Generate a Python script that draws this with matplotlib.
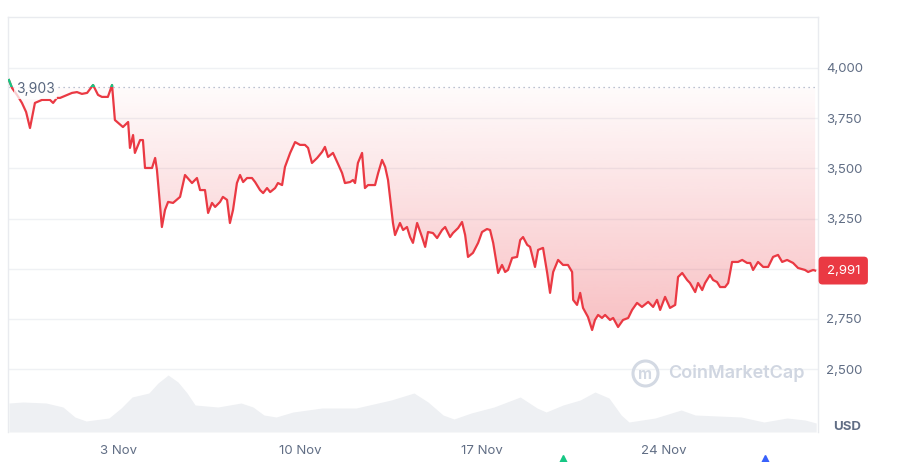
import numpy as np
import pandas as pd
import matplotlib
matplotlib.use('Agg')
import matplotlib.pyplot as plt
import matplotlib.dates as mdates
from matplotlib.patches import Rectangle
from matplotlib.transforms import blended_transform_factory

plt.rcParams['font.family'] = ['Inter', 'DejaVu Sans']

# Price series (days since 29 Oct 2025, USD)
price_days = [0.80, 0.92, 1.11, 1.30, 1.46, 1.61, 1.80, 2.07, 2.38, 2.50, 2.65, 2.77, 3.04, 3.23, 3.42,
              3.61, 3.81, 4.04, 4.23, 4.38, 4.61, 4.77, 4.88, 5.19, 5.39, 5.46, 5.58, 5.65, 5.85, 5.96,
              6.04, 6.31, 6.43, 6.50, 6.69, 6.81, 6.93, 7.12, 7.39, 7.58, 7.85, 8.04, 8.16, 8.35, 8.47,
              8.62, 8.74, 8.93, 9.04, 9.20, 9.31, 9.43, 9.58, 9.70, 9.82, 9.97, 10.16, 10.28, 10.47,
              10.59, 10.74, 10.86, 11.05, 11.16, 11.32, 11.43, 11.63, 11.82, 12.01, 12.20, 12.32, 12.47,
              12.67, 12.86, 12.97, 13.09, 13.28, 13.44, 13.63, 13.74, 13.94, 14.05, 14.13, 14.24, 14.40,
              14.51, 14.63, 14.90, 15.02, 15.17, 15.29, 15.40, 15.59, 15.67, 15.86, 15.98, 16.13, 16.25,
              16.36, 16.52, 16.71, 16.83, 16.94, 17.13, 17.29, 17.48, 17.60, 17.79, 17.90, 18.10, 18.25,
              18.37, 18.48, 18.67, 18.87, 19.02, 19.21, 19.33, 19.45, 19.64, 19.79, 19.91, 20.02, 20.18,
              20.37, 20.49, 20.60, 20.76, 20.87, 21.06, 21.18, 21.37, 21.53, 21.64, 21.76, 21.95, 22.14,
              22.33, 22.49, 22.53, 22.68, 22.80, 22.91, 23.10, 23.26, 23.37, 23.49, 23.64, 23.76, 23.95,
              24.07, 24.26, 24.45, 24.65, 24.80, 24.99, 25.18, 25.42, 25.61, 25.76, 25.88, 26.07, 26.26,
              26.46, 26.57, 26.73, 26.92, 27.03, 27.23, 27.34, 27.50, 27.61, 27.80, 27.92, 28.07, 28.19,
              28.38, 28.50, 28.65, 28.88, 29.04, 29.23, 29.35, 29.46, 29.65, 29.85, 30.04, 30.23, 30.42,
              30.58, 30.77, 31.00, 31.19, 31.46, 31.58, 31.77, 31.85]
prices = [3940, 3900, 3866, 3826, 3781, 3701, 3826, 3841, 3841, 3826, 3851, 3851, 3866, 3876, 3880,
          3871, 3876, 3915, 3866, 3856, 3856, 3915, 3741, 3706, 3731, 3602, 3666, 3577, 3641, 3641,
          3502, 3502, 3552, 3492, 3208, 3293, 3333, 3328, 3358, 3467, 3427, 3452, 3392, 3392, 3278,
          3328, 3308, 3333, 3358, 3343, 3228, 3293, 3427, 3467, 3432, 3452, 3452, 3432, 3392,
          3377, 3402, 3382, 3402, 3427, 3417, 3507, 3577, 3631, 3617, 3617, 3602, 3527,
          3552, 3582, 3607, 3557, 3577, 3532, 3477, 3427, 3432, 3442, 3427, 3527, 3577,
          3402, 3417, 3417, 3477, 3542, 3507, 3442, 3228, 3168, 3228, 3193, 3208, 3158,
          3129, 3228, 3158, 3109, 3183, 3178, 3153, 3193, 3208, 3158, 3178, 3203, 3233,
          3168, 3059, 3079, 3129, 3183, 3198, 3193, 3129, 2979, 3019, 2984, 2994, 3054,
          3059, 3143, 3158, 3119, 3109, 3009, 3094, 3104, 2979, 2880, 2984, 3044, 3019,
          3019, 2984, 2845, 2820, 2880, 2805, 2760, 2695, 2745, 2770, 2755, 2770, 2745,
          2755, 2710, 2745, 2755, 2795, 2830, 2810, 2835, 2810, 2845, 2795, 2860, 2805,
          2820, 2959, 2979, 2944, 2929, 2884, 2929, 2894, 2929, 2969, 2944, 2934, 2909,
          2909, 2929, 3034, 3034, 3044, 3029, 3029, 2994, 3034, 3009, 3009, 3059, 3069,
          3034, 3044, 3029, 3004, 2994, 2984, 2994, 2991]

# Volume (billions USD, arbitrary scale)
vol_days = [0.80, 1.34, 2.23, 2.88, 3.34, 3.77, 4.65, 5.12, 5.54, 6.19, 6.54, 6.93, 7.31, 7.66, 7.97,
            8.85, 9.74, 10.20, 10.62, 11.09, 11.74, 12.86, 14.17, 15.52, 16.40, 16.94, 17.52, 17.94,
            18.60, 19.48, 20.49, 21.14, 21.49, 22.14, 22.80, 23.37, 23.91, 24.38, 24.68, 25.69, 26.69,
            27.23, 29.00, 29.88, 30.77, 31.46, 31.89]
volumes = [14.5, 15, 14.5, 12.5, 7.5, 5.5, 7, 12, 17.5, 19.5, 24.5, 28.5, 25, 19.5, 13.5,
           12.5, 14.5, 12.5, 8.5, 7.5, 10, 12, 12, 16, 19.5, 15, 8.5, 6.5,
           9.5, 12.5, 17.5, 12, 10, 13.5, 16, 20, 17, 8.5, 5, 7, 11,
           8.5, 7.5, 5, 7, 6, 4.5]

event_days = [22.14, 29.92]
event_colors = ['#16c784', '#3861fb']

baseline = 3903
last_price = 2991
y_ticks = [2500, 2750, 3000, 3250, 3500, 3750, 4000]
x_tick_labels = ['3 Nov', '10 Nov', '17 Nov', '24 Nov']
x_tick_days = [5, 12, 19, 26]

base = pd.Timestamp('2025-10-29')
dates = mdates.date2num(base + pd.to_timedelta(price_days, unit='D'))
vdates = mdates.date2num(base + pd.to_timedelta(vol_days, unit='D'))
edates = mdates.date2num(base + pd.to_timedelta(event_days, unit='D'))
tdates = mdates.date2num(base + pd.to_timedelta(x_tick_days, unit='D'))
prices = np.array(prices)

red = '#ea3943'
green = '#16c784'
label_col = '#616e85'

fig = plt.figure(figsize=(9, 4.62), dpi=100)
ax = fig.add_axes([8/900, 30/462, 810/900, 415/462])

x0 = mdates.date2num(base + pd.Timedelta(days=0.763))
x1 = mdates.date2num(base + pd.Timedelta(days=31.96))
ax.set_xlim(x0, x1)
ax.set_ylim(2187, 4254)

# volume on its own scale
axv = ax.twinx()
axv.fill_between(vdates, volumes, 0, color='#eef0f3', lw=0)
axv.set_ylim(0, 207.5)
axv.set_yticks([])
for s in axv.spines.values():
    s.set_visible(False)

# gradient fill between baseline and price
poly = ax.fill_between(dates, np.minimum(prices, baseline), baseline, color='none', lw=0)
grad = np.zeros((256, 1, 4))
grad[:, 0, 0] = 234 / 255
grad[:, 0, 1] = 57 / 255
grad[:, 0, 2] = 67 / 255
grad[:, 0, 3] = np.linspace(0.32, 0.02, 256)
im = ax.imshow(grad, extent=[x0, x1, 2690, baseline], origin='lower', aspect='auto', zorder=1)
im.set_clip_path(poly.get_paths()[0], ax.transData)
ax.set_xlim(x0, x1)
ax.set_ylim(2187, 4254)

ax.plot(dates, prices, color=red, lw=1.6, zorder=3, solid_joinstyle='round')
gl, = ax.plot(dates, prices, color=green, lw=1.6, zorder=4, solid_joinstyle='round')
clip = Rectangle((x0, baseline), x1 - x0, 1000, transform=ax.transData)
gl.set_clip_path(clip)

ax.axhline(baseline, color='#a6b0c3', lw=0.9, ls=(0, (1, 3)), zorder=2)
ax.text(dates[0] + 0.28, baseline - 10, '3,903', fontsize=10, color='#58667e', va='center',
        ha='left', zorder=5,
        bbox=dict(boxstyle='square,pad=0.15', fc='white', ec='none', alpha=0.75))

# axes styling
ax.set_yticks(y_ticks)
ax.set_yticklabels(['' if v == 3000 else f'{v:,}' for v in y_ticks])
ax.yaxis.tick_right()
ax.tick_params(axis='y', length=0, pad=6, labelsize=9.5, labelcolor=label_col)
ax.set_xticks(tdates)
ax.set_xticklabels(x_tick_labels)
ax.tick_params(axis='x', length=0, pad=9, labelsize=9.5, labelcolor=label_col)
ax.grid(axis='y', color='#eff1f4', lw=1)
ax.set_axisbelow(True)
for side in ['left', 'right', 'top']:
    ax.spines[side].set_color('#e9ebef')
    ax.spines[side].set_linewidth(1)
ax.spines['bottom'].set_visible(False)

btrans = blended_transform_factory(ax.transAxes, ax.transData)
ax.text(1.0105, last_price, f'{last_price:,}', transform=btrans, color='white', fontsize=9.5,
        va='center', ha='left', zorder=6, clip_on=False,
        bbox=dict(boxstyle='round,pad=0.6,rounding_size=0.3', fc=red, ec='none'))

ax.text(1.0185, 0.012, 'USD', transform=ax.transAxes, fontsize=9.5, fontweight='bold',
        color=label_col, va='center', ha='left')

# watermark
ax.plot([0.7864], [0.142], 'o', ms=18, mfc='none', mec='#d3d9e3', mew=2.2,
        transform=ax.transAxes, zorder=2)
ax.text(0.7864, 0.138, 'm', transform=ax.transAxes, fontsize=11, color='#d3d9e3',
        ha='center', va='center', fontweight='bold')
ax.text(0.8148, 0.142, 'CoinMarketCap', transform=ax.transAxes, fontsize=13, color='#d0d6e1',
        fontweight='semibold', va='center', ha='left')

# event markers at the bottom edge
etrans = blended_transform_factory(ax.transData, ax.transAxes)
for d, c in zip(edates, event_colors):
    ax.plot([d], [-0.068], marker='^', ms=7, color=c, transform=etrans, clip_on=False)

fig.savefig('out.png', dpi=100, facecolor='white')
